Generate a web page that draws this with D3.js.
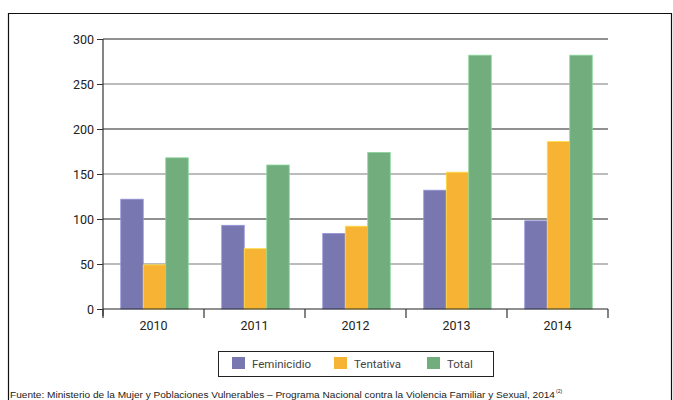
<!DOCTYPE html>
<html><head><meta charset="utf-8">
<script src="https://cdn.jsdelivr.net/npm/d3@7"></script>
<style>body{margin:0;background:#fff;}svg{display:block;}</style>
</head><body>
<script>
const years = ["2010","2011","2012","2013","2014"];
const seriesNames = ["Feminicidio","Tentativa","Total"];
const feminicidio = [122, 93, 84, 132, 98];
const tentativa = [49, 67, 92, 152, 186];
const total = [168, 160, 174, 282, 282];
const yTicks = [0, 50, 100, 150, 200, 250, 300];
const colors = ["#7877B0", "#F7B334", "#72AD7E"];
const source = "Fuente: Ministerio de la Mujer y Poblaciones Vulnerables \u2013 Programa Nacional contra la Violencia Familiar y Sexual, 2014";

const W = 673, H = 400;
const svg = d3.select("body").append("svg").attr("width", W).attr("height", H);
const font = "Roboto, 'Liberation Sans', sans-serif";

// outer frame
svg.append("path").attr("d", `M8.5,${H+5}V13.5H671.5V${H+5}`).attr("fill","none").attr("stroke","#111").attr("stroke-width",1.2);

const x0 = 103, x1 = 608, yTop = 39, yBot = 309;
const x = d3.scaleBand().domain(years).range([x0, x1]);
const y = d3.scaleLinear().domain([0, 300]).range([yBot, yTop]);
const xs = d3.scaleBand().domain(seriesNames).range([0, 67.5]);

// gridlines
svg.append("g").selectAll("line").data(yTicks.filter(t => t > 0)).join("line")
  .attr("x1", x0).attr("x2", x1).attr("y1", d => y(d)).attr("y2", d => y(d))
  .attr("stroke", d => d % 100 === 0 ? "#222" : "#7a7a7a").attr("stroke-width", 1.2);

const data = [feminicidio, tentativa, total];
const g = svg.append("g");
years.forEach((yr, i) => {
  const cx = x(yr) + x.bandwidth() / 2 + 1 - 67.5 / 2;
  seriesNames.forEach((s, j) => {
    g.append("rect")
      .attr("x", cx + xs(s)).attr("width", xs.bandwidth())
      .attr("y", y(data[j][i])).attr("height", yBot - y(data[j][i]))
      .attr("fill", colors[j]).attr("stroke", d3.color(colors[j]).brighter(0.6)).attr("stroke-width", 0.8);
  });
});

// y axis
const yAxis = svg.append("g").attr("transform", `translate(${x0},0)`)
  .call(d3.axisLeft(y).tickValues(yTicks).tickSize(6).tickPadding(3));
yAxis.select(".domain").attr("stroke", "#333").attr("stroke-width", 1.2).attr("d", `M0,${yTop}V${yBot+7}`);
yAxis.selectAll(".tick line").attr("stroke", "#333");
yAxis.selectAll("text").attr("font-family", font).attr("font-size", 12.5).attr("fill", "#222");

// x axis
const xAxis = svg.append("g").attr("transform", `translate(0,${yBot})`)
  .call(d3.axisBottom(x).tickSize(0).tickPadding(10));
xAxis.select(".domain").attr("stroke", "#222").attr("stroke-width", 1.2).attr("d", `M${x0},0H${x1}`);
xAxis.selectAll("text").attr("font-family", font).attr("font-size", 12.5).attr("fill", "#222").attr("dy", "0.9em");
svg.append("g").selectAll("line").data(years.concat(["end"])).join("line")
  .attr("x1", (d, i) => x0 + i * x.step()).attr("x2", (d, i) => x0 + i * x.step())
  .attr("y1", yBot).attr("y2", yBot + 9).attr("stroke", "#333").attr("stroke-width", 1.2);

// legend
const lg = svg.append("g");
lg.append("rect").attr("x", 218.5).attr("y", 351.5).attr("width", 275).attr("height", 25)
  .attr("fill", "#fff").attr("stroke", "#222").attr("stroke-width", 1);
const lx = [232, 334, 427];
seriesNames.forEach((s, j) => {
  lg.append("rect").attr("x", lx[j]).attr("y", 357).attr("width", 13).attr("height", 12).attr("fill", colors[j]);
  lg.append("text").attr("x", lx[j] + 20).attr("y", 367.5).text(s)
    .attr("font-family", font).attr("font-size", 11.5).attr("fill", "#444");
});

// source
svg.append("text").attr("x", 10).attr("y", 398).attr("font-family", "'Liberation Sans', Arial, sans-serif")
  .attr("font-size", 8.5).attr("fill", "#222").attr("textLength", 545).attr("lengthAdjust", "spacingAndGlyphs").text(source);
svg.append("text").attr("x", 556).attr("y", 393).attr("font-family", "'Liberation Sans', Arial, sans-serif")
  .attr("font-size", 5).attr("fill", "#222").text("(2)");
</script>
</body></html>
